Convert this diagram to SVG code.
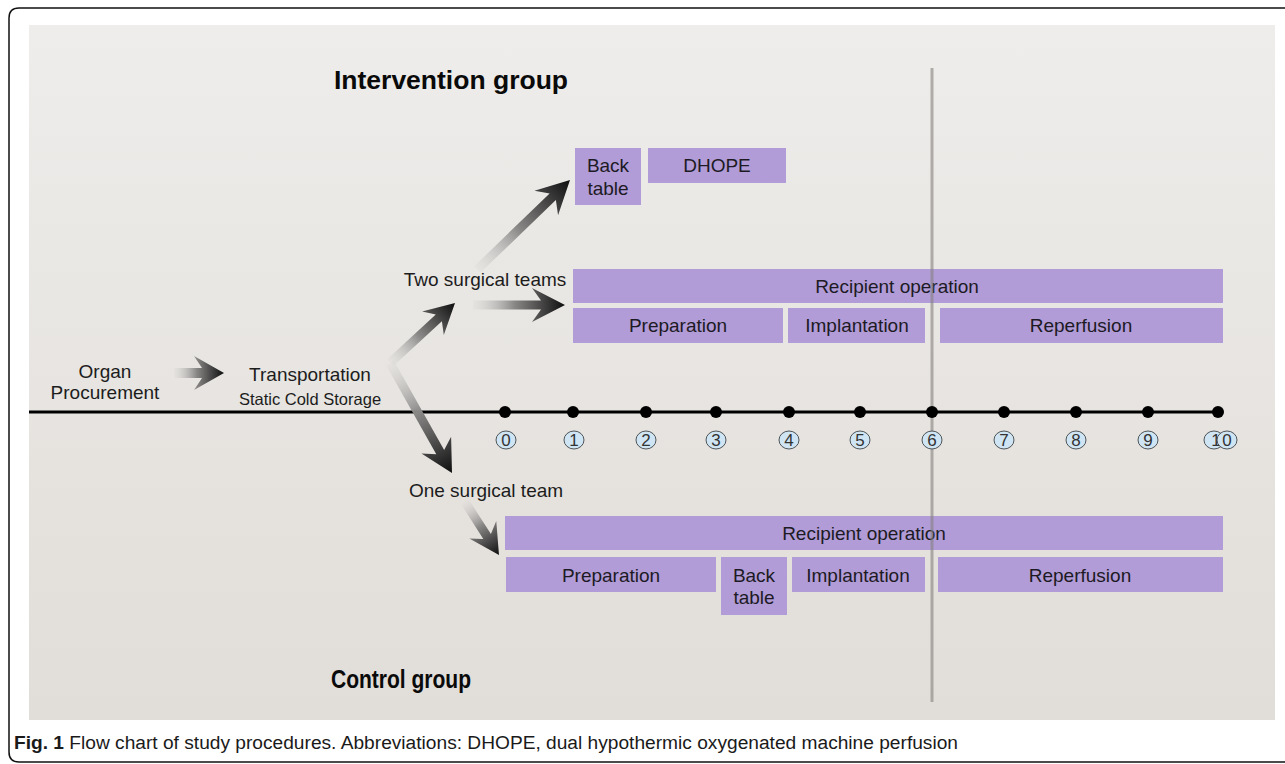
<svg xmlns="http://www.w3.org/2000/svg" width="1285" height="764" viewBox="0 0 1285 764">
<defs>
<linearGradient id="bg" x1="0" y1="0" x2="0" y2="1">
<stop offset="0" stop-color="#eeedeb"/>
<stop offset="1" stop-color="#e1ddd8"/>
</linearGradient>
<linearGradient id="ag" x1="0" y1="0" x2="1" y2="0">
<stop offset="0" stop-color="#d6d4d2" stop-opacity="0.2"/>
<stop offset="0.45" stop-color="#8a8887"/>
<stop offset="1" stop-color="#0e0e0e"/>
</linearGradient>
</defs>
<style>
.t{font-family:"Liberation Sans",Arial,sans-serif;fill:#1c1c1c}
.h{font-family:"Liberation Sans",Arial,sans-serif;font-weight:bold;font-size:26.5px;fill:#0a0a0a}
.box{fill:#b19cd7}
.bt{font-family:"Liberation Sans",Arial,sans-serif;font-size:19px;fill:#1d1a24;text-anchor:middle}
.num ellipse{fill:#cfe5f4;stroke:#4d5458;stroke-width:1}
.num text{font-family:"Liberation Sans",Arial,sans-serif;font-size:17px;fill:#333;text-anchor:middle}
.dot{fill:#000}
.arr{fill:url(#ag)}
</style>
<rect x="0" y="0" width="1285" height="764" fill="#ffffff"/>
<path d="M1290,8 H19 Q9,8 9,18 V752 Q9,762 19,762 H1290" fill="none" stroke="#111" stroke-width="1.5"/>
<rect x="29" y="25" width="1246" height="695" fill="url(#bg)"/>

<text class="h" x="451" y="89" text-anchor="middle">Intervention group</text>
<text class="h" x="331" y="688" textLength="140" lengthAdjust="spacingAndGlyphs">Control group</text>

<g id="organ"><text class="t" font-size="19" text-anchor="middle"><tspan x="105" y="378">Organ</tspan><tspan x="105" y="399">Procurement</tspan></text></g>
<g id="transport"><text class="t" font-size="19" x="310" y="381" text-anchor="middle">Transportation</text><text class="t" font-size="16.5" x="310" y="405" text-anchor="middle">Static Cold Storage</text></g>
<g id="two-teams"><text class="t" font-size="19" x="485" y="286" text-anchor="middle">Two surgical teams</text></g>
<g id="one-team"><text class="t" font-size="19" x="486" y="497" text-anchor="middle">One surgical team</text></g>

<g id="i-backtable"><rect class="box" x="575" y="148" width="66" height="57"/><text class="bt"><tspan x="608" y="172">Back</tspan><tspan x="608" y="195">table</tspan></text></g>
<g id="i-dhope"><rect class="box" x="648" y="148" width="138" height="35"/><text class="bt" x="717" y="172">DHOPE</text></g>
<g id="i-recipient"><rect class="box" x="573" y="269" width="650" height="34"/><text class="bt" x="897" y="293">Recipient operation</text></g>
<g id="i-prep"><rect class="box" x="573" y="308" width="210" height="35"/><text class="bt" x="678" y="332">Preparation</text></g>
<g id="i-impl"><rect class="box" x="788" y="308" width="137" height="35"/><text class="bt" x="857" y="332">Implantation</text></g>
<g id="i-rep"><rect class="box" x="940" y="308" width="283" height="35"/><text class="bt" x="1081" y="332">Reperfusion</text></g>

<g id="c-recipient"><rect class="box" x="505" y="516" width="718" height="34"/><text class="bt" x="864" y="540">Recipient operation</text></g>
<g id="c-prep"><rect class="box" x="506" y="557" width="210" height="35"/><text class="bt" x="611" y="582">Preparation</text></g>
<g id="c-backtable"><rect class="box" x="721" y="557" width="66" height="58"/><text class="bt"><tspan x="754" y="582">Back</tspan><tspan x="754" y="604">table</tspan></text></g>
<g id="c-impl"><rect class="box" x="792" y="557" width="133" height="35"/><text class="bt" x="858" y="582">Implantation</text></g>
<g id="c-rep"><rect class="box" x="938" y="557" width="285" height="35"/><text class="bt" x="1080" y="582">Reperfusion</text></g>

<line x1="932" y1="68" x2="932" y2="702" stroke="#85817f" stroke-width="3" opacity="0.6"/>

<g id="timeline">
<line x1="29" y1="412" x2="1220" y2="412" stroke="#000" stroke-width="3"/>
<circle class="dot" cx="505" cy="412" r="6"/>
<circle class="dot" cx="573" cy="412" r="6"/>
<circle class="dot" cx="646" cy="412" r="6"/>
<circle class="dot" cx="716" cy="412" r="6"/>
<circle class="dot" cx="789" cy="412" r="6"/>
<circle class="dot" cx="860" cy="412" r="6"/>
<circle class="dot" cx="932" cy="412" r="6"/>
<circle class="dot" cx="1004" cy="412" r="6"/>
<circle class="dot" cx="1076" cy="412" r="6"/>
<circle class="dot" cx="1148" cy="412" r="6"/>
<circle class="dot" cx="1218" cy="412" r="6"/>
</g>
<g id="numbers" class="num">
<ellipse cx="506" cy="440" rx="10" ry="9"/><text x="506" y="446">0</text>
<ellipse cx="574" cy="440" rx="10" ry="9"/><text x="574" y="446">1</text>
<ellipse cx="646" cy="440" rx="10" ry="9"/><text x="646" y="446">2</text>
<ellipse cx="716" cy="440" rx="10" ry="9"/><text x="716" y="446">3</text>
<ellipse cx="789" cy="440" rx="10" ry="9"/><text x="789" y="446">4</text>
<ellipse cx="860" cy="440" rx="10" ry="9"/><text x="860" y="446">5</text>
<ellipse cx="932" cy="440" rx="10" ry="9"/><text x="932" y="446">6</text>
<ellipse cx="1004" cy="440" rx="10" ry="9"/><text x="1004" y="446">7</text>
<ellipse cx="1076" cy="440" rx="10" ry="9"/><text x="1076" y="446">8</text>
<ellipse cx="1148" cy="440" rx="10" ry="9"/><text x="1148" y="446">9</text>
<ellipse cx="1214" cy="440" rx="10" ry="9"/><text x="1216" y="446">1</text>
<ellipse cx="1227" cy="440" rx="10" ry="9"/><text x="1227" y="446">0</text>
</g>

<g id="connectors">
<g transform="translate(224,373)"><polygon class="arr" points="-50,-5 -22,-5 -30,-17 0,0 -30,17 -22,5 -50,5"/></g>
<g transform="translate(455,303) rotate(-42.7)"><polygon class="arr" points="-88,-4.5 -22,-4.5 -30,-16 0,0 -30,16 -22,4.5 -88,4.5"/></g>
<g transform="translate(565,305)"><polygon class="arr" points="-92,-4.5 -24,-4.5 -33,-17 0,0 -33,17 -24,4.5 -92,4.5"/></g>
<g transform="translate(570,180) rotate(-44)"><polygon class="arr" points="-129,-4.5 -24,-4.5 -33,-17 0,0 -33,17 -24,4.5 -129,4.5"/></g>
<g transform="translate(452,473) rotate(60.6)"><polygon class="arr" points="-126,-4.5 -24,-4.5 -32,-17 0,0 -32,17 -24,4.5 -126,4.5"/></g>
<g transform="translate(499,555) rotate(57.3)"><polygon class="arr" points="-63,-4.5 -22,-4.5 -30,-16 0,0 -30,16 -22,4.5 -63,4.5"/></g>
</g>

<text x="14" y="749" font-family="'Liberation Sans',Arial,sans-serif" font-size="18" fill="#1a1a1a" textLength="944" lengthAdjust="spacingAndGlyphs"><tspan font-weight="bold">Fig. 1</tspan> Flow chart of study procedures. Abbreviations: DHOPE, dual hypothermic oxygenated machine perfusion</text>
</svg>
